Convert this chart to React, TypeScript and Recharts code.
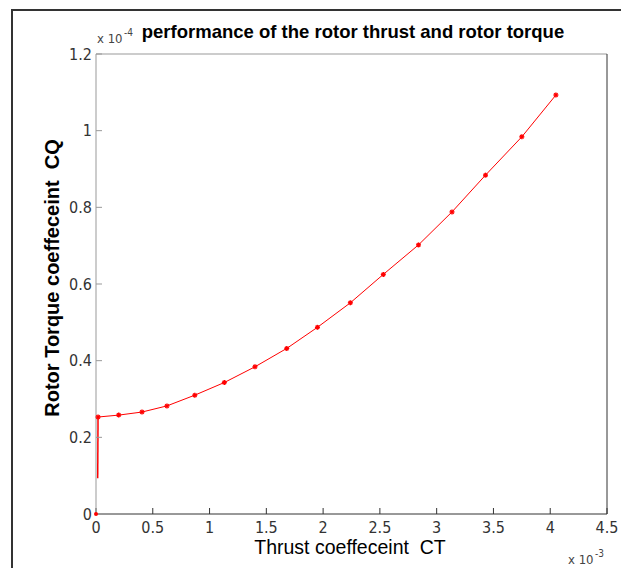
import { ComposedChart, Line, Scatter, XAxis, YAxis } from 'recharts';

// values in plot units: CT in x10^-3, CQ in x10^-4
const thrustCT = [0.018, 0.2, 0.405, 0.625, 0.87, 1.13, 1.4, 1.68, 1.95, 2.24, 2.53, 2.84, 3.135, 3.43, 3.75, 4.05];
const torqueCQ = [0.253, 0.258, 0.266, 0.282, 0.31, 0.343, 0.384, 0.432, 0.487, 0.551, 0.625, 0.702, 0.788, 0.884, 0.984, 1.093];

// short vertical rise at the start of the curve, and the lone point at the origin
const riseCT = [0.015, 0.018];
const riseCQ = [0.093, 0.253];
const originCT = [0];
const originCQ = [0];

const xTicks = [0, 0.5, 1, 1.5, 2, 2.5, 3, 3.5, 4, 4.5];
const yTicks = [0, 0.2, 0.4, 0.6, 0.8, 1, 1.2];

const curve = thrustCT.map((ct, i) => ({ ct, cq: torqueCQ[i] }));
const rise = riseCT.map((ct, i) => ({ ct, cq: riseCQ[i] }));
const origin = originCT.map((ct, i) => ({ ct, cq: originCQ[i] }));

const FONT = '"Liberation Sans", Arial, sans-serif';
const NARROW = '"Liberation Sans Narrow", "DejaVu Sans Condensed", "Liberation Sans", sans-serif';

/* matlab style '*' marker */
const StarDot = (props: any) => {
  const { cx, cy } = props;
  if (cx == null || cy == null) return null;
  const s = 2.5;
  return (
    <g stroke="#ff0000" strokeWidth={1.4}>
      <line x1={cx - s} y1={cy} x2={cx + s} y2={cy} />
      <line x1={cx} y1={cy - s} x2={cx} y2={cy + s} />
      <line x1={cx - s * 0.7} y1={cy - s * 0.7} x2={cx + s * 0.7} y2={cy + s * 0.7} />
      <line x1={cx - s * 0.7} y1={cy + s * 0.7} x2={cx + s * 0.7} y2={cy - s * 0.7} />
    </g>
  );
};

const tickStyle = { fontSize: 16, fill: '#333', fontFamily: NARROW };

const App = () => {
  return (
    <div style={{ position: 'absolute', left: 0, top: 0, width: 621, height: 568, background: '#fff' }}>
      <ComposedChart width={621} height={568} margin={{ top: 53, right: 13, bottom: 53, left: 95 }}>
        <XAxis
          xAxisId="bottom"
          type="number"
          dataKey="ct"
          domain={[0, 4.5]}
          ticks={xTicks}
          height={1}
          tickSize={-6}
          tickMargin={14}
          stroke="#333"
          tick={tickStyle}
        />
        <XAxis
          xAxisId="top"
          orientation="top"
          type="number"
          dataKey="ct"
          domain={[0, 4.5]}
          ticks={xTicks}
          height={1}
          tickSize={-6}
          stroke="#999"
          tick={false}
        />
        <YAxis
          yAxisId="left"
          type="number"
          domain={[0, 1.2]}
          ticks={yTicks}
          width={1}
          tickSize={-6}
          tickMargin={10}
          stroke="#999"
          tick={tickStyle}
        />
        <YAxis
          yAxisId="right"
          orientation="right"
          type="number"
          domain={[0, 1.2]}
          ticks={yTicks}
          width={1}
          tickSize={-6}
          stroke="#333"
          tick={false}
        />
        <Line
          xAxisId="bottom"
          yAxisId="left"
          data={rise}
          dataKey="cq"
          stroke="#ff0000"
          strokeWidth={1.5}
          dot={false}
          isAnimationActive={false}
        />
        <Line
          xAxisId="bottom"
          yAxisId="left"
          data={curve}
          dataKey="cq"
          type="linear"
          stroke="#ff0000"
          strokeWidth={1}
          dot={<StarDot />}
          isAnimationActive={false}
        />
        <Scatter
          xAxisId="bottom"
          yAxisId="left"
          data={origin}
          dataKey="cq"
          fill="#ff0000"
          shape={(p: any) => <circle cx={p.cx} cy={p.cy} r={2} fill="#ff0000" />}
          isAnimationActive={false}
        />
      </ComposedChart>
      <svg
        width={621}
        height={568}
        style={{ position: 'absolute', left: 0, top: 0, pointerEvents: 'none' }}
        fontFamily={FONT}
      >
        <rect x={12} y={10} width={700} height={700} fill="none" stroke="#333" strokeWidth={2} />
        <text x={353} y={38} textAnchor="middle" fontSize={18.5} fontWeight="bold" fill="#000">
          performance of the rotor thrust and rotor torque
        </text>
        <text x={97} y={43} fontSize={13} fill="#444" fontFamily={NARROW}>x 10</text>
        <text x={124} y={36} fontSize={10} fill="#444" fontFamily={NARROW}>-4</text>
        <text x={350} y={554} textAnchor="middle" fontSize={19.5} fill="#000">
          {'Thrust coeffeceint\u00a0 CT'}
        </text>
        <text x={568} y={564} fontSize={13} fill="#444" fontFamily={NARROW}>x 10</text>
        <text x={595} y={557} fontSize={10} fill="#444" fontFamily={NARROW}>-3</text>
        <text
          x={0}
          y={0}
          transform="translate(59 278) rotate(-90)"
          textAnchor="middle"
          fontSize={20}
          fontWeight="bold"
          fill="#000"
        >
          {'Rotor Torque coeffeceint\u00a0 CQ'}
        </text>
      </svg>
    </div>
  );
};

export default App;
